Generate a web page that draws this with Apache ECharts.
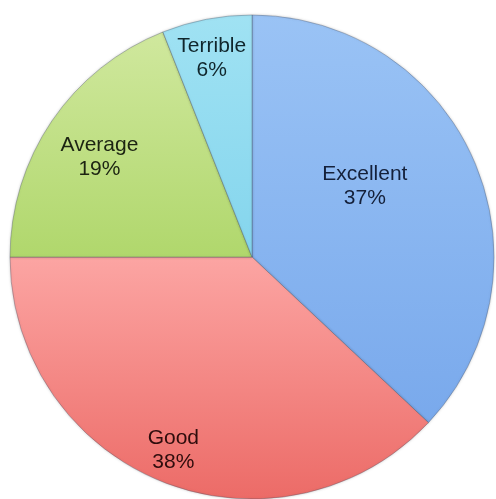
<!DOCTYPE html>
<html>
<head>
<meta charset="utf-8">
<script src="https://cdn.jsdelivr.net/npm/echarts@6/dist/echarts.min.js"></script>
<style>
  html, body { margin: 0; padding: 0; background: #ffffff; }
  #chart { width: 496px; height: 499px; }
</style>
</head>
<body>
<div id="chart"></div>
<script>
// Ratings breakdown
const categories = ['Excellent', 'Good', 'Average', 'Terrible'];
const shares = [37, 38, 19, 6];

// Fill colours per slice: [top, bottom]
const sliceColors = [
  ['#9ac3f5', '#79a9ec'],
  ['#fca5a3', '#ec6b67'],
  ['#d0e89e', '#b0d76c'],
  ['#a0e2f3', '#84d5ed']
];
const textColors = ['#14203a', '#2e0c0c', '#1c2412', '#10262c'];
// Label nudges away from the default inside anchor
const labelOffsets = [[-1, -22], [-33, 78], [-50, -30], [-17, -77]];

const cx = 252, cy = 257, radius = 242;

const chart = echarts.init(document.getElementById('chart'), null, { renderer: 'canvas' });

const data = categories.map((name, i) => ({
  name,
  value: shares[i],
  itemStyle: {
    color: {
      type: 'linear', x: 0, y: 0, x2: 0, y2: 1,
      colorStops: [
        { offset: 0, color: sliceColors[i][0] },
        { offset: 1, color: sliceColors[i][1] }
      ]
    }
  },
  label: { color: textColors[i], offset: labelOffsets[i] }
}));

chart.setOption({
  animation: false,
  series: [{
    type: 'pie',
    center: [cx, cy],
    radius: [0, radius],
    startAngle: 90,
    clockwise: true,
    data,
    itemStyle: {
      borderColor: 'rgba(70,80,100,0.35)',
      borderWidth: 1,
      shadowColor: 'rgba(0,0,0,0.2)',
      shadowBlur: 3
    },
    label: {
      show: true,
      position: 'inside',
      fontFamily: 'Liberation Sans, Arial, sans-serif',
      fontSize: 21,
      lineHeight: 24,
      formatter: p => p.name + '\n' + p.value + '%'
    },
    labelLine: { show: false },
    emphasis: { disabled: true }
  }]
});
</script>
</body>
</html>
